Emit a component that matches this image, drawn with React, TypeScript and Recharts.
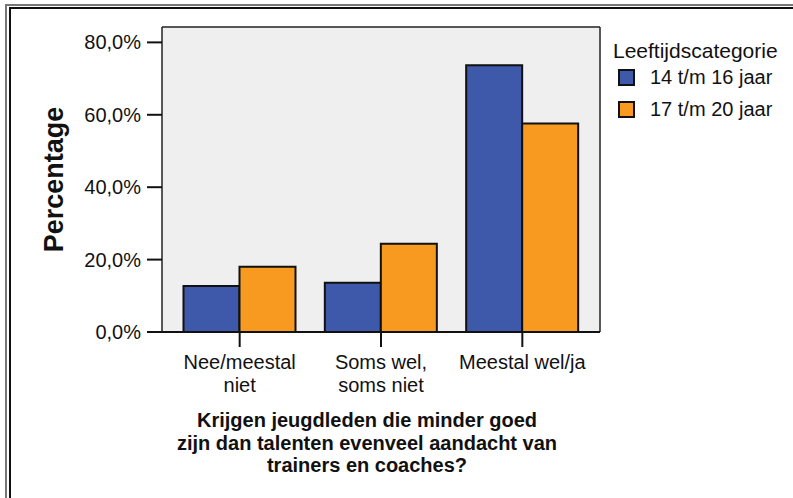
import React from 'react';
import { BarChart, Bar, XAxis, YAxis, CartesianGrid, Legend } from 'recharts';

const FONT = '"Liberation Sans", Arial, Helvetica, sans-serif';

const categories = ['Nee/meestal niet', 'Soms wel, soms niet', 'Meestal wel/ja'];
const tickLabels = [['Nee/meestal', 'niet'], ['Soms wel,', 'soms niet'], ['Meestal wel/ja']];
const age14to16 = [12.7, 13.6, 73.7];
const age17to20 = [18.0, 24.4, 57.6];
const yTicks = [0, 20, 40, 60, 80];
const xTitleLines = [
  'Krijgen jeugdleden die minder goed',
  'zijn dan talenten evenveel aandacht van',
  'trainers en coaches?',
];

const data = categories.map((c, i) => ({
  name: c,
  young: age14to16[i],
  old: age17to20[i],
}));

const fmtPct = (v: number) => v.toFixed(1).replace('.', ',') + '%';

function CategoryTick(props: any) {
  const { x, y, payload } = props;
  const idx = categories.indexOf(payload.value);
  const lines = tickLabels[idx] || [payload.value];
  return (
    <text x={x} y={y} textAnchor="middle" fontFamily={FONT} fontSize={20} fill="#111">
      {lines.map((l, i) => (
        <tspan key={i} x={x} dy={i === 0 ? 20 : 23}>{l}</tspan>
      ))}
    </text>
  );
}

function YTitle(props: any) {
  const { viewBox } = props;
  const cy = viewBox.y + viewBox.height / 2;
  const cx = 54;
  return (
    <text
      x={cx}
      y={cy}
      transform={`rotate(-90 ${cx} ${cy})`}
      textAnchor="middle"
      dominantBaseline="central"
      fontFamily={FONT}
      fontSize={27}
      fontWeight="bold"
      fill="#111"
    >
      Percentage
    </text>
  );
}

function XTitle(props: any) {
  const { viewBox } = props;
  const cx = viewBox.x + viewBox.width / 2 - 14;
  return (
    <text x={cx} y={427} textAnchor="middle" fontFamily={FONT} fontSize={20} fontWeight="bold" fill="#111">
      {xTitleLines.map((l, i) => (
        <tspan key={i} x={cx} dy={i === 0 ? 0 : 22.7}>{l}</tspan>
      ))}
    </text>
  );
}

function LegendBox(props: any) {
  const { payload = [] } = props;
  return (
    <div style={{ fontFamily: FONT, color: '#111', textAlign: 'left' }}>
      <div style={{ fontSize: 21, lineHeight: '22px', whiteSpace: 'nowrap' }}>Leeftijdscategorie</div>
      {payload.map((p: any) => (
        <div key={p.value} style={{ display: 'flex', alignItems: 'center', height: 31.7, marginLeft: 5 }}>
          <span
            style={{
              display: 'inline-block',
              width: 13,
              height: 13,
              border: '2px solid #111',
              background: p.color,
            }}
          />
          <span style={{ marginLeft: 15, fontSize: 20, whiteSpace: 'nowrap' }}>{p.value}</span>
        </div>
      ))}
    </div>
  );
}

export default function App() {
  return (
    <div style={{ position: 'absolute', left: 0, top: 0, width: 793, height: 498, overflow: 'hidden', background: '#fff' }}>
      <div style={{ position: 'absolute', left: 5, top: 4, width: 900, height: 700, border: '2px solid #777' }} />
      <div style={{ position: 'absolute', left: 9, top: 7, width: 900, height: 700, border: '2px solid #111' }} />
      <div style={{ position: 'absolute', left: 0, top: 0 }}>
        <BarChart
          width={793}
          height={498}
          data={data}
          margin={{ top: 27, right: 193, left: 82, bottom: 106 }}
          barCategoryGap={14.5}
          barGap={0}
        >
          <CartesianGrid
            fill="#efefef"
            stroke="#222"
            strokeWidth={1.5}
            horizontalCoordinatesGenerator={({ offset }: any) => [offset.top]}
            verticalCoordinatesGenerator={({ offset }: any) => [offset.left + offset.width]}
          />
          <XAxis
            dataKey="name"
            height={60}
            padding={{ left: 7, right: 7 }}
            tickSize={15}
            tickMargin={2}
            axisLine={{ stroke: '#111', strokeWidth: 2 }}
            tickLine={{ stroke: '#111', strokeWidth: 2 }}
            tick={<CategoryTick />}
            interval={0}
            label={<XTitle />}
          />
          <YAxis
            width={80}
            domain={[0, 84.25]}
            ticks={yTicks}
            tickFormatter={fmtPct}
            tickSize={15}
            tickMargin={6}
            axisLine={{ stroke: '#222', strokeWidth: 1.5 }}
            tickLine={{ stroke: '#111', strokeWidth: 2 }}
            tick={{ fill: '#111', fontSize: 20, fontFamily: FONT }}
            label={<YTitle />}
          />
          <Legend
            layout="vertical"
            align="center"
            verticalAlign="middle"
            wrapperStyle={{ left: 613, top: 40, width: 180 }}
            content={<LegendBox />}
          />
          <Bar dataKey="young" name="14 t/m 16 jaar" fill="#3e58aa" stroke="#111" strokeWidth={2} isAnimationActive={false} />
          <Bar dataKey="old" name="17 t/m 20 jaar" fill="#f99a20" stroke="#111" strokeWidth={2} isAnimationActive={false} />
        </BarChart>
      </div>
    </div>
  );
}
